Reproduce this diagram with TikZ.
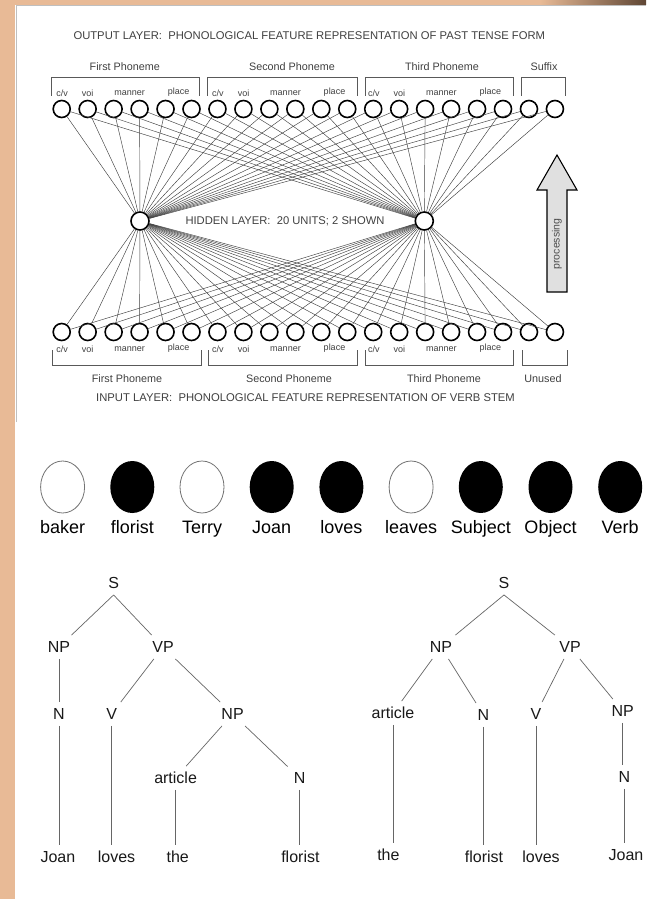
\documentclass[tikz,border=0pt]{standalone}
\usepackage{fontspec}
\setmainfont{Liberation Sans}
\usetikzlibrary{arrows.meta,positioning,calc,shapes.geometric}

\definecolor{peach}{RGB}{232,186,150}
\definecolor{barkbrown}{RGB}{95,70,52}

\begin{document}
\begin{tikzpicture}[x=1pt, y=-1pt,
	unit/.style={circle, draw=black, line width=1.6pt, fill=white,
		minimum size=17pt, inner sep=0pt},
	wire/.style={draw=black!75, line width=0.45pt},
	featlbl/.style={font=\fontsize{9}{9}\selectfont, text=black!75, inner sep=0pt},
	grplbl/.style={font=\fontsize{10.8}{11}\selectfont, text=black!75, inner sep=0pt},
	layerlbl/.style={font=\fontsize{11.25}{12}\selectfont, text=black!75, inner sep=0pt},
	brkt/.style={draw=black!65, line width=0.8pt},
	procarrow/.style={draw=black, line width=1.1pt, fill=black!12, line join=miter},
	blob/.style={ellipse, minimum width=44pt, minimum height=52pt, inner sep=0pt},
	blobon/.style={blob, fill=black},
	bloboff/.style={blob, draw=black!55, line width=0.8pt, fill=white},
	wordlbl/.style={font=\fontsize{18}{18}\selectfont, anchor=base, inner sep=0pt},
	tnode/.style={font=\fontsize{16}{16}\selectfont, text=black!90, inner sep=6pt,
		text height=11.5pt, text depth=0pt},
	tedge/.style={draw=black!60, line width=0.7pt},
	]
	
	%% ── Background ───────────────────────────────────────────────────────────────
	\fill[peach] (0,0) rectangle (646,899);
	\useasboundingbox (0,0) rectangle (646,899);
	\shade[left color=peach, right color=barkbrown] (540,0) rectangle (646,5);
	\fill[white] (15,5) rectangle (646,899);
	\draw[black!25, line width=0.5pt] (16,422) -- (16,5) -- (646,5);
	
	%% ── Output layer ─────────────────────────────────────────────────────────────
	\node[layerlbl, anchor=west] (outtitle) at (73.3,36)
	{OUTPUT LAYER:\ \ PHONOLOGICAL FEATURE REPRESENTATION OF PAST TENSE FORM};
	
	\node[grplbl] (outgrp1) at (124.8,66.7) {First Phoneme};
	\node[grplbl] (outgrp2) at (292,66.7) {Second Phoneme};
	\node[grplbl] (outgrp3) at (442,66.7) {Third Phoneme};
	\node[grplbl] (outgrp4) at (544,66.7) {Suffix};
	
	\draw[brkt] (51.7,95.5) |- (199.3,77.5) -- (199.3,95.5);
	\draw[brkt] (207.7,95.5) |- (357.3,77.5) -- (357.3,95.5);
	\draw[brkt] (365,95.5) |- (513.3,77.5) -- (513.3,95.5);
	\draw[brkt] (521.7,95.5) |- (565.7,77.5) -- (565.7,95.5);
	
	\foreach \g/\x in {1/61.7, 2/217.5, 3/373.3} {
		\node[featlbl, anchor=west] (outcv\g) at (\x-5.5,93.3) {c/v};
		\node[featlbl] (outvoi\g) at (\x+26,93.3) {voi};
		\node[featlbl] (outman\g) at (\x+68,93.3) {manner};
		\node[featlbl] (outpla\g) at (\x+117,91.8) {place};
	}
	
	\foreach \i in {1,...,20}
	\node[unit] (out\i) at ({61.7+25.96*(\i-1)},109) {};
	
	%% ── Hidden layer ─────────────────────────────────────────────────────────────
	\node[unit, minimum size=18pt] (hidL) at (140,221) {};
	\node[unit, minimum size=18pt] (hidR) at (424.3,221) {};
	\node[layerlbl, font=\fontsize{11.2}{12}\selectfont] (hidlbl) at (285,221)
	{HIDDEN LAYER:\ \ 20 UNITS; 2 SHOWN};
	
	%% ── Input layer ──────────────────────────────────────────────────────────────
	\foreach \i in {1,...,20}
	\node[unit] (in\i) at ({61.7+25.96*(\i-1)},332) {};
	
	\foreach \g/\x in {1/61.7, 2/217.5, 3/373.3} {
		\node[featlbl, anchor=west] (incv\g) at (\x-5.5,349.3) {c/v};
		\node[featlbl] (invoi\g) at (\x+26,349.3) {voi};
		\node[featlbl] (inman\g) at (\x+68,349.3) {manner};
		\node[featlbl] (inpla\g) at (\x+117,347.8) {place};
	}
	
	\draw[brkt] (52.7,350) |- (201,365) -- (201,350);
	\draw[brkt] (208.3,350) |- (357.3,365) -- (357.3,350);
	\draw[brkt] (365,350) |- (513.3,365) -- (513.3,350);
	\draw[brkt] (522.7,350) |- (567.7,365) -- (567.7,350);
	
	\node[grplbl] (ingrp1) at (127,379) {First Phoneme};
	\node[grplbl] (ingrp2) at (289,379) {Second Phoneme};
	\node[grplbl] (ingrp3) at (444,379) {Third Phoneme};
	\node[grplbl] (ingrp4) at (543,379) {Unused};
	
	\node[layerlbl, anchor=west] (intitle) at (96,398)
	{INPUT LAYER:\ \ PHONOLOGICAL FEATURE REPRESENTATION OF VERB STEM};
	
	%% ── Weights ──────────────────────────────────────────────────────────────────
	\foreach \i in {1,...,20} {
		\draw[wire] (hidL) -- (out\i);
		\draw[wire] (hidR) -- (out\i);
		\draw[wire] (hidL) -- (in\i);
		\draw[wire] (hidR) -- (in\i);
	}
	
	%% ── Processing arrow ─────────────────────────────────────────────────────────
	\draw[procarrow] (547,292) -- (547,190) -- (537,190) -- (557,155)
	-- (577,190) -- (567,190) -- (567,292) -- cycle;
	\node[rotate=90, font=\fontsize{10.5}{11}\selectfont, text=black!70, inner sep=0pt]
	(proc) at (557,244) {processing};
	
	%% ── Localist units ───────────────────────────────────────────────────────────
	\foreach \k/\w/\s in {1/baker/off, 2/florist/on, 3/Terry/off, 4/Joan/on,
		5/loves/on, 6/leaves/off, 7/Subject/on, 8/Object/on, 9/Verb/on} {
		\node[blob\s] (blob\k) at ({62.6+69.7*(\k-1)},487) {};
		\node[wordlbl] (word\k) at ({62.6+69.7*(\k-1)},533.5) {\w};
	}
	
	%% ── Tree: Joan loves the florist ─────────────────────────────────────────────
	\node[tnode] (sL)   at (113.6,583) {S};
	\node[tnode] (npL)  at (59,647)    {NP};
	\node[tnode] (vpL)  at (163,647)   {VP};
	\node[tnode] (nL)   at (59,714)    {N};
	\node[tnode] (vL)   at (111.6,714) {V};
	\node[tnode] (np2L) at (232.6,714) {NP};
	\node[tnode] (artL) at (175.6,778) {article};
	\node[tnode] (n2L)  at (299.6,778) {N};
	\node[tnode] (joanL)    at (57.9,857)  {Joan};
	\node[tnode] (lovesL)   at (116.5,857) {loves};
	\node[tnode] (theL)     at (177.7,857) {the};
	\node[tnode] (floristL) at (300.4,857) {florist};
	
	\draw[tedge] (sL.south) -- (npL);
	\draw[tedge] (sL.south) -- (vpL);
	\draw[tedge] (npL) -- (nL);
	\draw[tedge] (vpL) -- (vL);
	\draw[tedge] (vpL) -- (np2L);
	\draw[tedge] (np2L) -- (artL);
	\draw[tedge] (np2L) -- (n2L);
	\draw[tedge] (nL) -- (nL |- joanL.north);
	\draw[tedge] (vL) -- (vL |- lovesL.north);
	\draw[tedge] (artL) -- (artL |- theL.north);
	\draw[tedge] (n2L) -- (n2L |- floristL.north);
	
	%% ── Tree: the florist loves Joan ─────────────────────────────────────────────
	\node[tnode] (sR)   at (504,583)   {S};
	\node[tnode] (npR)  at (441,647)   {NP};
	\node[tnode] (vpR)  at (570,647)   {VP};
	\node[tnode] (artR) at (393,713)   {article};
	\node[tnode] (nR)   at (483.5,715) {N};
	\node[tnode] (vR)   at (536,714)   {V};
	\node[tnode] (np2R) at (622.7,711) {NP};
	\node[tnode] (n2R)  at (624.5,777) {N};
	\node[tnode] (theR)     at (388.4,855) {the};
	\node[tnode] (floristR) at (484,857)   {florist};
	\node[tnode] (lovesR)   at (541,857)   {loves};
	\node[tnode] (joanR)    at (626,855)   {Joan};
	
	\draw[tedge] (sR.south) -- (npR);
	\draw[tedge] (sR.south) -- (vpR);
	\draw[tedge] (npR) -- (artR);
	\draw[tedge] (npR) -- (nR);
	\draw[tedge] (vpR) -- (vR);
	\draw[tedge] (vpR) -- (np2R);
	\draw[tedge] (np2R) -- (np2R.south |- n2R.north);
	\draw[tedge] (artR) -- (artR |- theR.north);
	\draw[tedge] (nR) -- (nR |- floristR.north);
	\draw[tedge] (vR) -- (vR |- lovesR.north);
	\draw[tedge] (n2R) -- (n2R |- joanR.north);
	
\end{tikzpicture}
\end{document}
